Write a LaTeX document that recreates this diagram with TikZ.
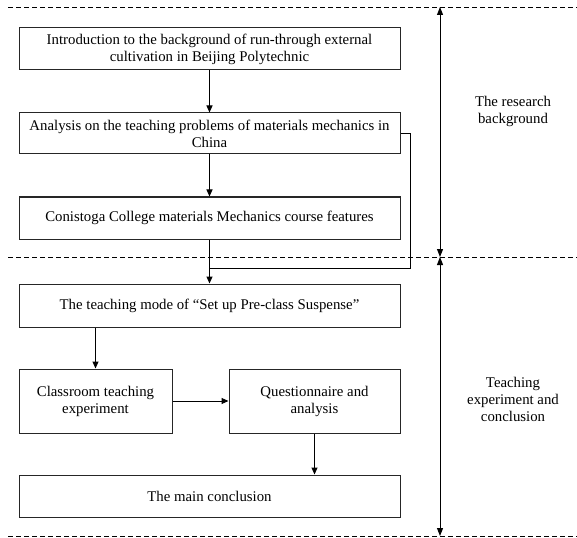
\documentclass[tikz,border=0pt]{standalone}
\usepackage{fontspec}
\setmainfont{Liberation Serif}
\usetikzlibrary{arrows.meta,calc}
\begin{document}
\begin{tikzpicture}[x=1pt,y=-1pt,
  font=\fontsize{14.8}{17}\selectfont,
  box/.style={draw=black!85,line width=1pt,align=center,inner sep=0pt,minimum width=#1},
  flow/.style={draw=black,line width=1pt,-{Triangle[length=7pt,width=6pt]}},
  line/.style={draw=black,line width=1pt},
  sep/.style={draw=black,line width=0.9pt,dash pattern=on 5pt off 3pt},
  span/.style={draw=black,line width=1pt,{Triangle[length=8pt,width=6pt]}-{Triangle[length=8pt,width=6pt]}},
  lab/.style={align=center,inner sep=0pt}]
\useasboundingbox (0,0) rectangle (577,537);
% separators
\coordinate (s1a) at (8,7);   \coordinate (s1b) at (577,7);
\coordinate (s2a) at (8,257); \coordinate (s2b) at (577,257);
\coordinate (s3a) at (8,536); \coordinate (s3b) at (577,536);
\draw[sep] (s1a) -- (s1b);
\draw[sep] (s2a) -- (s2b);
\draw[sep] (s3a) -- (s3b);
% boxes
\node[box=381pt,minimum height=42pt] (b1) at (209.5,49) {Introduction to the background of run-through external\\cultivation in Beijing Polytechnic};
\node[box=381pt,minimum height=41pt] (b2) at (209.5,133.5) {Analysis on the teaching problems of materials mechanics in\\China};
\node[box=381pt,minimum height=42pt] (b3) at (209.5,218) {Conistoga College materials Mechanics course features};
\node[box=381pt,minimum height=43pt] (b4) at (209.5,305.5) {The teaching mode of \char"201C Set up Pre-class Suspense\char"201D};
\node[box=153pt,minimum height=64pt] (b5) at (95.5,401) {Classroom teaching\\experiment};
\node[box=171pt,minimum height=64pt] (b6) at (314.5,401) {Questionnaire and\\analysis};
\node[box=381pt,minimum height=42pt] (b7) at (209.5,496) {The main conclusion};
% connectors
\draw[flow] (b1) -- (b2);
\draw[flow] (b2) -- (b3);
\draw[flow] (b3) -- (b4);
\coordinate (fb) at (410,268);
\draw[line] (b2.east) -| (fb) -- (fb -| b4.north);
\draw[flow] (b4.south -| b5.north) -- (b5.north);
\draw[flow] (b5.east |- b6.west) -- (b6.west);
\draw[flow] (b6.south) -- (b6.south |- b7.north);
% spans
\coordinate (r1) at (440,7);
\coordinate (r2) at (440,257);
\coordinate (r3) at (440,536);
\draw[span] (r1) -- (r2);
\draw[span] (r2) -- (r3);
\node[lab] (l1) at (513,111) {The research\\background};
\node[lab] (l2) at (513,399) {Teaching\\experiment and\\conclusion};
\end{tikzpicture}
\end{document}
